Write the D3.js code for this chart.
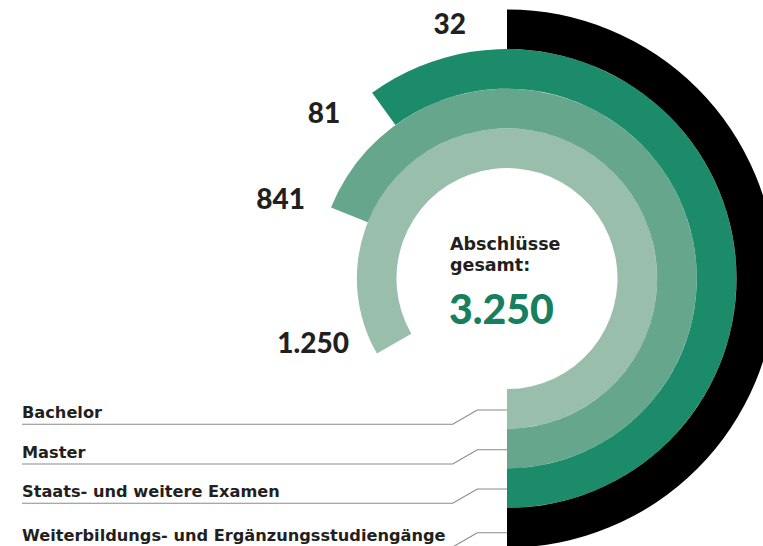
<!DOCTYPE html>
<html>
<head>
<meta charset="utf-8">
<script src="https://cdn.jsdelivr.net/npm/d3@7"></script>
<style>
  html, body { margin: 0; padding: 0; background: #fff; }
  svg { display: block; }
  text { font-family: Lato, "Open Sans", sans-serif; }
  .wide { font-family: "DejaVu Sans", "Open Sans", sans-serif; }
</style>
</head>
<body>
<script>
// ---- data ----
const categories = ["Bachelor", "Master", "Staats- und weitere Examen", "Weiterbildungs- und Ergänzungsstudiengänge"];
const values = [1250, 841, 81, 32];
const valueLabels = ["1.250", "841", "81", "32"];
const totalLabel = "3.250";
const titleLines = ["Abschlüsse", "gesamt:"];
// sweep (degrees) of each ring as drawn in the source graphic (non-linear encoding)
const sweepDomain = [32, 81, 841, 1250];
const sweepRange = [180, 216, 248, 300];
const colors = ["#99bfac", "#65a68c", "#1b8b6a", "#000000"];

// ---- layout ----
const W = 763, H = 546;
const cx = 507, cy = 278.5;
const r0 = 110.5, band = 39.65;

const svg = d3.select("body").append("svg").attr("width", W).attr("height", H);

const sweep = d3.scaleLinear().domain(sweepDomain).range(sweepRange);
const ringIndex = d3.scaleBand().domain(categories).range([r0, r0 + band * categories.length]);

const arc = d3.arc();
const g = svg.append("g").attr("transform", `translate(${cx},${cy})`);

const rings = categories.map((c, i) => {
  const inner = ringIndex(c);
  const outer = inner + ringIndex.bandwidth();
  const start = Math.PI;
  const end = Math.PI - sweep(values[i]) * Math.PI / 180;
  return { c, i, inner, outer, start, end };
});

g.selectAll("path.ring").data(rings).join("path")
  .attr("class", "ring")
  .attr("fill", d => colors[d.i])
  .attr("d", d => arc({ innerRadius: d.inner, outerRadius: d.outer, startAngle: d.end, endAngle: d.start }));

// value labels near arc ends
const labelOffsets = [[-28, -1], [-26, 2], [-32, 30], [-41, 25]];
g.selectAll("text.val").data(rings).join("text")
  .attr("class", "val")
  .attr("x", d => d.outer * Math.sin(d.end) + labelOffsets[d.i][0])
  .attr("y", d => -d.outer * Math.cos(d.end) + labelOffsets[d.i][1])
  .attr("text-anchor", "end")
  .attr("font-size", 28)
  .attr("font-weight", 900)
  .attr("fill", "#231f20")
  .text(d => valueLabels[d.i]);

// center text (two lines)
const tx = cx - 57;
const title = svg.append("text").attr("class", "wide").attr("x", tx).attr("y", 250)
  .attr("font-size", 17.5).attr("font-weight", 700).attr("fill", "#231f20");
titleLines.forEach((t, i) => {
  title.append("tspan").attr("x", tx).attr("dy", i === 0 ? 0 : 20.5).text(t);
});
svg.append("text").attr("x", tx - 1).attr("y", 323.5)
  .attr("font-size", 41).attr("font-weight", 900).attr("fill", "#177e5e").text(totalLabel);

// legend with leader lines
const legendUnder = [424.3, 464, 503.3, 547];
const leg = svg.append("g");
rings.forEach((d, i) => {
  const yU = legendUnder[i];
  const yT = yU - 14.3;
  leg.append("path")
    .attr("d", `M22,${yU}H452.7L477.3,${yT}H${cx}`)
    .attr("fill", "none").attr("stroke", "#8a8a8a").attr("stroke-width", 1.1);
  leg.append("text").attr("class", "wide").attr("x", 22).attr("y", yU - 6)
    .attr("font-size", 16.2).attr("font-weight", 700).attr("fill", "#231f20")
    .text(d.c);
});
</script>
</body>
</html>
